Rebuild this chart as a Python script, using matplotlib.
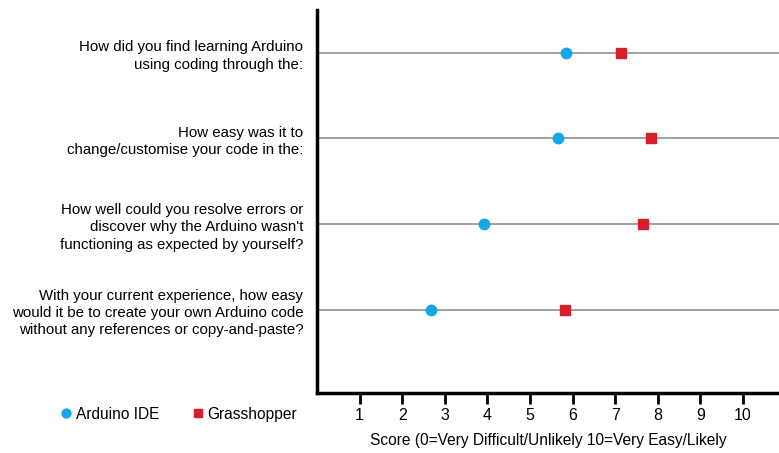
import matplotlib
matplotlib.use("Agg")
import matplotlib.pyplot as plt

questions = [
    "How did you find learning Arduino\nusing coding through the:",
    "How easy was it to\nchange/customise your code in the:",
    "How well could you resolve errors or\ndiscover why the Arduino wasn't\nfunctioning as expected by yourself?",
    "With your current experience, how easy\nwould it be to create your own Arduino code\nwithout any references or copy-and-paste?",
]
arduino_ide = [5.85, 5.66, 3.91, 2.67]
grasshopper = [7.14, 7.84, 7.66, 5.83]
xticks = [1, 2, 3, 4, 5, 6, 7, 8, 9, 10]

plt.rcParams['font.family'] = ['Liberation Sans', 'DejaVu Sans']

fig = plt.figure(figsize=(7.79, 4.53), dpi=100)
ax = fig.add_axes([0.407, 0.1325, 0.593, 0.8455])

ypos = [4, 3, 2, 1]
for y in ypos:
    ax.axhline(y, color='#9a9a9a', linewidth=1.3, zorder=1)

ax.plot(arduino_ide, ypos, 'o', color='#12a8e8', markersize=7.5,
        linestyle='none', label='Arduino IDE', zorder=3)
ax.plot(grasshopper, ypos, 's', color='#d71f2b', markersize=6.5,
        linestyle='none', label='Grasshopper', zorder=3)

ax.set_xlim(0, 10.85)
ax.set_ylim(0.03, 4.5)
ax.set_yticks(ypos)
ax.set_yticklabels(questions, fontsize=10.8, ha='right', linespacing=1.3)
ax.tick_params(axis='y', length=0, pad=10)
ax.set_xticks(xticks)
ax.set_xticklabels([str(t) for t in xticks], fontsize=11.5)
ax.tick_params(axis='x', length=8, width=2, direction='out', pad=3)

for s in ['top', 'right']:
    ax.spines[s].set_visible(False)
for s in ['left', 'bottom']:
    ax.spines[s].set_linewidth(2.5)
    ax.spines[s].set_color('black')

ax.set_xlabel('Score (0=Very Difficult/Unlikely 10=Very Easy/Likely', fontsize=11.2, labelpad=7)

fig.legend(loc='center', bbox_to_anchor=(0.228, 0.086), ncol=2, frameon=False,
           fontsize=11.2, handletextpad=0.1, columnspacing=2.0, handlelength=1,
           markerscale=0.85)

fig.savefig('out.png', dpi=100)
